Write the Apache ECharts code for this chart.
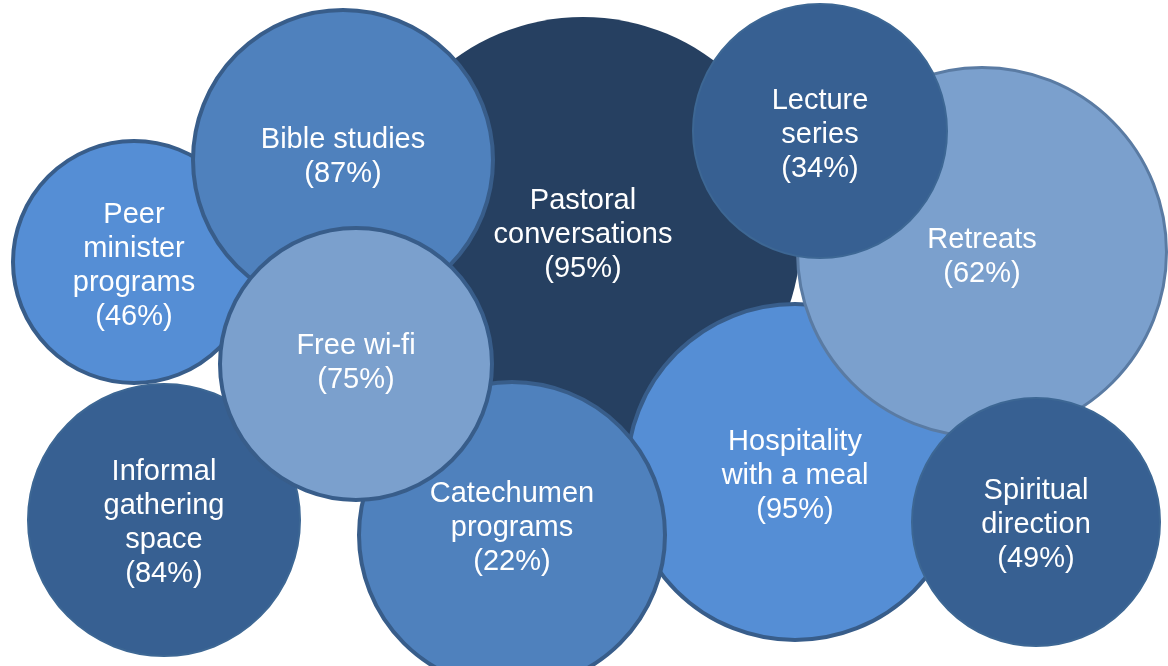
<!DOCTYPE html>
<html>
<head>
<meta charset="utf-8">
<script src="https://cdn.jsdelivr.net/npm/echarts@6/dist/echarts.min.js"></script>
<style>
html,body{margin:0;padding:0;background:#fff;}
#chart{width:1168px;height:666px;}
</style>
</head>
<body>
<div id="chart"></div>
<script>
// Data (drawing order: back to front). Units: 1 unit = 1/116.8 of width.
const categories = ["Pastoral\nconversations","Peer\nminister\nprograms","Bible studies","Informal\ngathering\nspace","Hospitality\nwith a meal","Catechumen\nprograms","Free wi-fi","Retreats","Lecture\nseries","Spiritual\ndirection"];
const percents   = [95, 46, 87, 84, 95, 22, 75, 62, 34, 49];
const xValues    = [58.3, 13.4, 34.3, 16.4, 79.5, 51.2, 35.6, 98.2, 82.0, 103.6];
const yValues    = [23.5, 26.2, 16.0, 52.0, 47.2, 53.5, 36.4, 25.2, 13.1, 52.2];
const radii      = [21.8, 12.3, 15.2, 13.7, 17.0, 15.5, 13.8, 18.6, 12.8, 12.5];

// Styles (kept separate from data)
const styleOf = {
  "Pastoral\nconversations": {color:"#264061", borderColor:"#264061", borderWidth:0, labelDy:0},
  "Peer\nminister\nprograms": {color:"#558ED5", borderColor:"#385D8A", borderWidth:4, labelDy:4},
  "Bible studies": {color:"#4F81BD", borderColor:"#385D8A", borderWidth:4, labelDy:-3},
  "Informal\ngathering\nspace": {color:"#376092", borderColor:"#3D6794", borderWidth:2, labelDy:3},
  "Hospitality\nwith a meal": {color:"#558ED5", borderColor:"#385D8A", borderWidth:4, labelDy:4},
  "Catechumen\nprograms": {color:"#4F81BD", borderColor:"#385D8A", borderWidth:4, labelDy:-7},
  "Free wi-fi": {color:"#7BA0CD", borderColor:"#385D8A", borderWidth:4, labelDy:-1},
  "Retreats": {color:"#7BA0CD", borderColor:"#5A7BA3", borderWidth:3, labelDy:5},
  "Lecture\nseries": {color:"#376092", borderColor:"#3D6794", borderWidth:2, labelDy:4},
  "Spiritual\ndirection": {color:"#376092", borderColor:"#3D6794", borderWidth:2, labelDy:3}
};

const X_MAX = 116.8, Y_MAX = 66.6;
const el = document.getElementById('chart');
const chart = echarts.init(el, null, {renderer:'canvas'});
const pxPerUnit = chart.getWidth() / X_MAX;

const data = categories.map((name, i) => {
  const st = styleOf[name];
  return {
    name: name,
    value: [xValues[i], yValues[i], radii[i], percents[i]],
    symbolSize: 2 * radii[i] * pxPerUnit - st.borderWidth,
    itemStyle: {color: st.color, borderColor: st.borderColor, borderWidth: st.borderWidth, opacity: 1}
  };
});

const labelCfg = {
  show: true,
  color: '#ffffff',
  opacity: 1,
  fontFamily: '"Liberation Sans", Arial, sans-serif',
  fontSize: 29,
  lineHeight: 34,
  align: 'center',
  verticalAlign: 'middle',
  formatter: p => p.name + '\n(' + p.value[3] + '%)'
};

chart.setOption({
  animation: false,
  grid: {left: 0, right: 0, top: 0, bottom: 0, containLabel: false},
  xAxis: {type: 'value', min: 0, max: X_MAX, show: false},
  yAxis: {type: 'value', min: 0, max: Y_MAX, inverse: true, show: false},
  series: [
    {
      type: 'scatter',
      symbol: 'circle',
      data: data,
      label: {show: false},
      emphasis: {disabled: true},
      z: 2
    },
    {
      type: 'scatter',
      symbol: 'circle',
      data: data.map(d => ({
        name: d.name, value: d.value, symbolSize: 2,
        itemStyle: {color: 'rgba(0,0,0,0)', borderWidth: 0},
        label: {position: [1, 1 + styleOf[d.name].labelDy], align: 'center', verticalAlign: 'middle'}
      })),
      label: labelCfg,
      labelLayout: {hideOverlap: false},
      emphasis: {disabled: true},
      z: 5,
      silent: true
    }
  ]
});
</script>
</body>
</html>
